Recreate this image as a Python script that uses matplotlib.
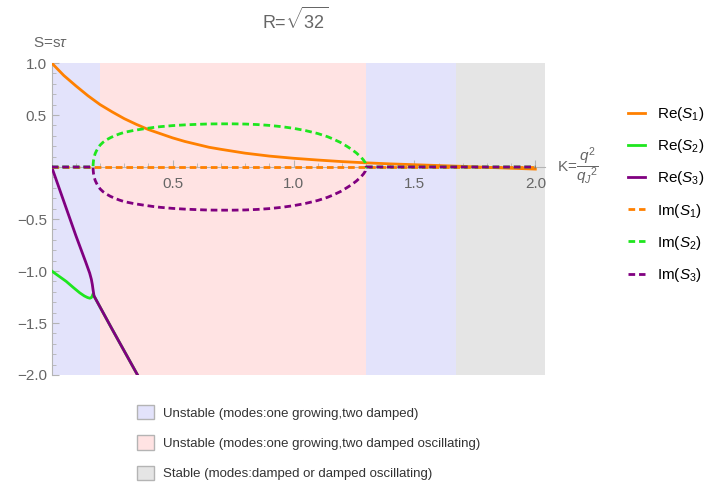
import numpy as np
import matplotlib
matplotlib.use("Agg")
import matplotlib.pyplot as plt
from matplotlib.lines import Line2D
from matplotlib.patches import Patch

plt.rcParams['font.family'] = ['Liberation Sans', 'DejaVu Sans']
plt.rcParams['mathtext.fontset'] = 'custom'
plt.rcParams['mathtext.rm'] = 'Liberation Sans'
plt.rcParams['mathtext.it'] = 'Liberation Sans:italic'

# valores
k_re1 = [0, 0.05, 0.1, 0.15, 0.2, 0.25, 0.3, 0.35, 0.4, 0.45, 0.5, 0.55, 0.6,
         0.65, 0.7, 0.8, 0.9, 1.0, 1.1, 1.2, 1.3, 1.4, 1.5, 1.6, 1.7, 1.8,
         1.9, 2.0]
re_s1 = [1.0, 0.88, 0.78, 0.685, 0.60, 0.53, 0.465, 0.41, 0.36, 0.32, 0.28,
         0.246, 0.218, 0.19, 0.17, 0.133, 0.105, 0.084, 0.067, 0.052, 0.04,
         0.03, 0.022, 0.014, 0.006, -0.003, -0.012, -0.02]

k_re2 = [0, 0.03, 0.06, 0.09, 0.116, 0.135, 0.148, 0.158, 0.164, 0.168, 0.171,
         0.175, 0.25, 0.355, 0.42]
re_s2 = [-1.0, -1.05, -1.10, -1.16, -1.21, -1.24, -1.255, -1.262, -1.255,
         -1.24, -1.22, -1.24, -1.56, -2.0, -2.28]

k_re3 = [0, 0.05, 0.10, 0.14, 0.157, 0.164, 0.168, 0.171, 0.175, 0.25, 0.355,
         0.42]
re_s3 = [0, -0.33, -0.66, -0.91, -1.02, -1.08, -1.13, -1.18, -1.24, -1.56,
         -2.0, -2.28]

k_im = [0, 0.171, 0.1715, 0.173, 0.176, 0.18, 0.185, 0.192, 0.20, 0.212,
        0.226, 0.242, 0.26, 0.28, 0.30, 0.34, 0.378, 0.42, 0.45, 0.50, 0.55,
        0.60, 0.65, 0.70, 0.75, 0.80, 0.85, 0.90, 0.95, 1.00, 1.05, 1.10,
        1.14, 1.165, 1.195, 1.22, 1.24, 1.26, 1.28, 1.29, 1.297, 1.30, 1.6,
        2.0]
im_s2 = [0, 0, 0.03, 0.065, 0.10, 0.13, 0.155, 0.183, 0.21, 0.237, 0.26,
         0.281, 0.30, 0.318, 0.333, 0.352, 0.366, 0.38, 0.388, 0.398, 0.405,
         0.41, 0.414, 0.415, 0.415, 0.413, 0.408, 0.40, 0.388, 0.372, 0.35,
         0.322, 0.292, 0.268, 0.235, 0.20, 0.17, 0.135, 0.092, 0.065, 0.04,
         0, 0, 0]
im_s1 = [0] * len(k_im)
im_s3 = [-v for v in im_s2]

# regioes de estabilidade
limites = [0, 0.2, 1.3, 1.67, 2.04]
cores_regiao = ['#e3e3fb', '#ffe3e3', '#e3e3fb', '#e5e5e5']
legenda_regiao = ['Unstable (modes:one growing,two damped)',
                  'Unstable (modes:one growing,two damped oscillating)',
                  'Stable (modes:damped or damped oscillating)']

laranja = '#ff8000'
verde = '#1ee61e'
roxo = '#800080'
cinza = '#666666'

fig = plt.figure(figsize=(7.09, 4.87), dpi=100)
ax = fig.add_axes([51.7 / 709, 112 / 487, (545 - 51.7) / 709, 312 / 487])

for i in range(4):
    ax.axvspan(limites[i], limites[i + 1], color=cores_regiao[i], lw=0, zorder=0)

lw = 2.0
tr = dict(dashes=(2.4, 1.4))
ax.plot(k_re1, re_s1, color=laranja, lw=lw, zorder=3)
ax.plot(k_re2, re_s2, color=verde, lw=lw, zorder=3)
ax.plot(k_re3, re_s3, color=roxo, lw=lw, zorder=3)
ax.plot(k_im, im_s1, color=laranja, lw=lw, zorder=3, **tr)
ax.plot(k_im, im_s2, color=verde, lw=lw, zorder=3, **tr)
ax.plot(k_im, im_s3, color=roxo, lw=lw, zorder=3, **tr)

ax.set_xlim(0, 2.04)
ax.set_ylim(-2, 1)
ax.spines[['top', 'right']].set_visible(False)
ax.spines['bottom'].set_position(('data', 0))
for s in ['left', 'bottom']:
    ax.spines[s].set_color('#b4b4b4')
    ax.spines[s].set_zorder(2)
ax.set_xticks([0.5, 1.0, 1.5, 2.0])
ax.set_xticks(np.arange(0.1, 2.05, 0.1), minor=True)
ax.set_yticks([-2.0, -1.5, -1.0, -0.5, 0.5, 1.0])
ax.set_yticks(np.arange(-2.0, 1.01, 0.1), minor=True)
ax.tick_params(which='both', direction='in', color='#b4b4b4', labelcolor=cinza,
               labelsize=11)
ax.tick_params(which='major', length=5)
ax.tick_params(which='minor', length=3)
ax.tick_params(axis='x', pad=7)

fig.text(295 / 709, 1 - 20 / 487, r'R=$\sqrt{32}$', color=cinza, fontsize=13,
         ha='center', va='center')
fig.text(33 / 709, 1 - 43 / 487, r'S=s$\tau$', color=cinza, fontsize=11,
         ha='left', va='center')
fig.text(557 / 709, 1 - 166 / 487, r'K=$\dfrac{q^2}{{q_J}^2}$', color=cinza,
         fontsize=11, ha='left', va='center')

handles = [
    Line2D([], [], color=laranja, lw=lw),
    Line2D([], [], color=verde, lw=lw),
    Line2D([], [], color=roxo, lw=lw),
    Line2D([], [], color=laranja, lw=lw, **tr),
    Line2D([], [], color=verde, lw=lw, **tr),
    Line2D([], [], color=roxo, lw=lw, **tr),
]
rotulos = [r'Re($S_1$)', r'Re($S_2$)', r'Re($S_3$)',
           r'Im($S_1$)', r'Im($S_2$)', r'Im($S_3$)']
fig.legend(handles, rotulos, loc='upper left',
           bbox_to_anchor=(628 / 709, 1 - 105 / 487), frameon=False,
           fontsize=11, handlelength=1.1, handletextpad=0.8, labelspacing=0.93,
           borderpad=0, borderaxespad=0)

patches = [Patch(facecolor=c, edgecolor='#b4b4b4', lw=1)
           for c in [cores_regiao[0], cores_regiao[1], cores_regiao[3]]]
fig.legend(patches, legenda_regiao, loc='upper left',
           bbox_to_anchor=(137 / 709, 1 - 405 / 487), frameon=False,
           fontsize=9.5, handlelength=1.3, handleheight=1.3, handletextpad=0.7,
           labelspacing=1.2, borderpad=0, borderaxespad=0, labelcolor='#333333')

plt.savefig('out.png', dpi=100)
